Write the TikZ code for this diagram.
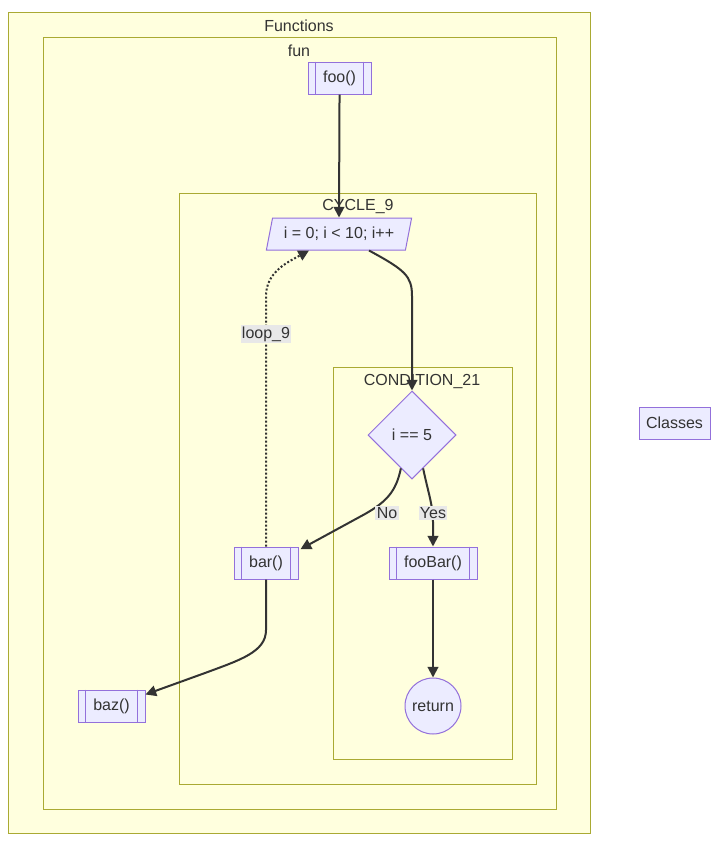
\documentclass[tikz,border=0pt]{standalone}
\usepackage{fontspec}
\setmainfont{Liberation Sans}
\usetikzlibrary{shapes.geometric,arrows.meta,calc}
\definecolor{clfill}{HTML}{FFFFDE}
\definecolor{clline}{HTML}{AAAA33}
\definecolor{ndfill}{HTML}{ECECFF}
\definecolor{ndline}{HTML}{9370DB}
\definecolor{txt}{HTML}{333333}
\definecolor{lblbg}{HTML}{E8E8E8}
\begin{document}
\begin{tikzpicture}[x=0.75pt,y=-0.75pt,
  font=\fontsize{12}{14}\selectfont, text=txt,
  cluster/.style={draw=clline,fill=clfill,line width=0.75pt},
  clabel/.style={text=txt,inner sep=0pt},
  box/.style={draw=ndline,fill=ndfill,line width=0.75pt,minimum height=24pt,inner sep=0pt},
  subline/.style={draw=ndline,line width=0.75pt},
  arr/.style={draw=txt,line width=1.5pt,-{Triangle[length=8pt,width=8pt]}},
  dotarr/.style={arr,line width=1.5pt,dash pattern=on 1.5pt off 1.5pt},
  lbl/.style={fill=lblbg,inner sep=1pt,text=txt}
]
\useasboundingbox (0,0) rectangle (726,846);
\fill[white] (0,0) rectangle (726,846);

% clusters
\draw[cluster] (8,12) rectangle (590,833);
\node[clabel] (tFunctions) at (299,26) {Functions};
\draw[cluster] (43,37) rectangle (556,809);
\node[clabel] (tFun) at (299,51) {fun};
\draw[cluster] (179,193) rectangle (536,784);
\node[clabel] (tCycle) at (358,207) {CYCLE\_9};
\draw[cluster] (333,367) rectangle (512,759);
\node[clabel] (tCond) at (422,381) {CONDITION\_21};

% nodes
\node[box,minimum width=47.25pt] (foo) at (339.5,78) {foo()};
\draw[subline] ([xshift=6pt]foo.north west) -- ([xshift=6pt]foo.south west);
\draw[subline] ([xshift=-6pt]foo.north east) -- ([xshift=-6pt]foo.south east);

\node[box,trapezium,trapezium left angle=69.4,trapezium right angle=110.6,
  trapezium stretches=true,minimum width=109.5pt,minimum height=24pt] (loop) at (339,234) {i = 0; i < 10; i++};

\node[box,diamond,aspect=1,minimum width=66pt,minimum height=66pt] (d) at (412,435) {i == 5};

\node[box,minimum width=48pt] (bar) at (266,563) {bar()};
\draw[subline] ([xshift=6pt]bar.north west) -- ([xshift=6pt]bar.south west);
\draw[subline] ([xshift=-6pt]bar.north east) -- ([xshift=-6pt]bar.south east);

\node[box,minimum width=66pt] (fooBar) at (433,563) {fooBar()};
\draw[subline] ([xshift=6pt]fooBar.north west) -- ([xshift=6pt]fooBar.south west);
\draw[subline] ([xshift=-6pt]fooBar.north east) -- ([xshift=-6pt]fooBar.south east);

\node[box,minimum width=50.25pt] (baz) at (111.5,706) {baz()};
\draw[subline] ([xshift=6pt]baz.north west) -- ([xshift=6pt]baz.south west);
\draw[subline] ([xshift=-6pt]baz.north east) -- ([xshift=-6pt]baz.south east);

\node[box,circle,minimum size=42pt] (ret) at (433,706) {return};

\node[box,minimum width=53.25pt] (classes) at (674.5,423) {Classes};

% edges
\draw[arr] (foo.south) .. controls (339.5,150) and (339,180) .. (loop.north);
\draw[arr] ([xshift=22.5pt]loop.south) .. controls (405,270) and (412,276) .. (412,296) -- (d.north);
\draw[arr] ($(d.south)!0.25!(d.west)$) .. controls (396,492) and (386,502) .. (365,514) -- ([xshift=1.5pt,yshift=-2pt]bar.north east);
\draw[arr] ($(d.south)!0.25!(d.east)$) .. controls (428,492) and (433,505) .. (433,522) -- (fooBar.north);
\draw[dotarr] (bar.north) -- (266,296) .. controls (266,272) and (288,262) .. ([xshift=-22.5pt]loop.south);
\draw[arr] (bar.south) -- (266,630) .. controls (266,652) and (240,660) .. (205,673) -- ([yshift=-3.75pt]baz.north east);
\draw[arr] (fooBar.south) -- (ret.north);

% edge labels
\node[lbl] (lNo) at (387,513) {No};
\node[lbl] (lYes) at (433,513) {Yes};
\node[lbl] (lLoop) at (266,334) {loop\_9};
\end{tikzpicture}
\end{document}
